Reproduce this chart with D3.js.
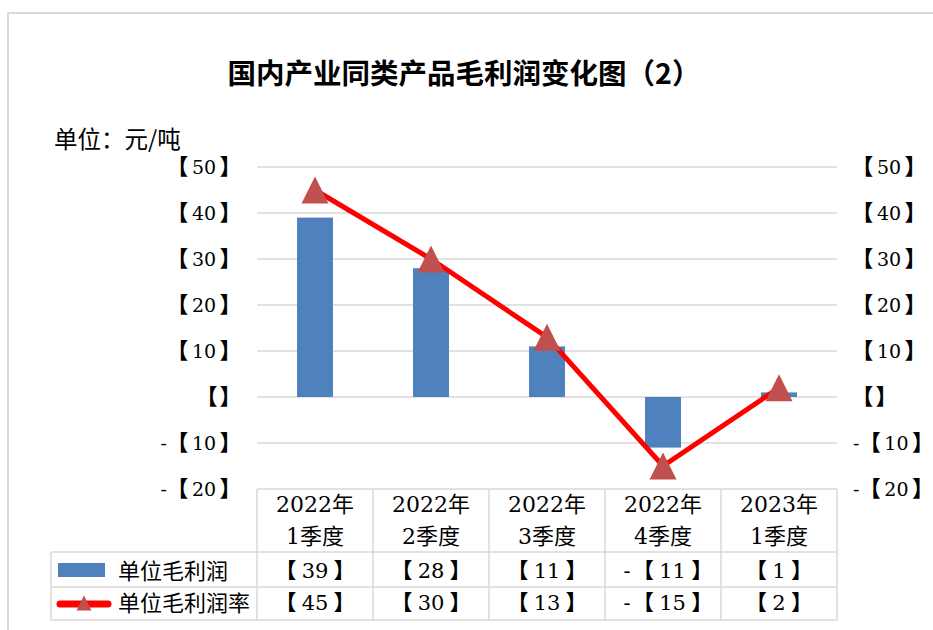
<!DOCTYPE html>
<html>
<head>
<meta charset="utf-8">
<script src="https://cdn.jsdelivr.net/npm/d3@7/dist/d3.min.js"></script>
<style>
  body { margin: 0; background: #fff; }
  svg text { fill: #000; }
  .bk { font-family: 'Noto Sans CJK SC', sans-serif; font-weight: 900; font-size: 1.15em; font-feature-settings: "palt"; }
  .cell .bk { font-size: 1em; }
</style>
</head>
<body>
<div id="chart"></div>
<script>
const categories = [["2022年", "1季度"], ["2022年", "2季度"], ["2022年", "3季度"], ["2022年", "4季度"], ["2023年", "1季度"]]
const profit = [39, 28, 11, -11, 1]
const profitRate = [45, 30, 13, -15, 2]
const seriesNames = ["单位毛利润", "单位毛利润率"]
const yTicks = [-20, -10, 0, 10, 20, 30, 40, 50]

const w = 933
const h = 630
const plotLeft = 257
const plotRight = 837
const plotTop = 167
const plotBottom = 489
const serif = "'DejaVu Serif', 'Noto Sans CJK SC', serif"
const cjk = "'Noto Sans CJK SC', sans-serif"

// writes "【n】", "- 【n】" or "【】" into a text element, brackets in heavy CJK
const bracketText = (text, v, gap, negGap) => {
    text.text(null)
    if (v < 0) text.append('tspan').text('-')
    text.append('tspan').attr('class', 'bk').attr('dx', v < 0 ? negGap : 0).text('【')
    if (v !== 0) text.append('tspan').attr('dx', gap).text(Math.abs(v))
    text.append('tspan').attr('class', 'bk').attr('dx', v !== 0 ? gap : 3).text('】')
}

const svg = d3.select('#chart')
    .append('svg')
    .attr('width', w)
    .attr('height', h)

// outer frame (runs off the right / bottom of the picture)
svg.append('rect')
    .attr('x', 8)
    .attr('y', 13)
    .attr('width', 1000)
    .attr('height', 700)
    .attr('fill', 'none')
    .attr('stroke', '#d9d9d9')
    .attr('stroke-width', 2)

svg.append('text')
    .attr('x', 464)
    .attr('y', 84)
    .attr('text-anchor', 'middle')
    .style('font-family', cjk)
    .style('font-weight', 'bold')
    .style('font-size', '28.5px')
    .text('国内产业同类产品毛利润变化图（2）')

svg.append('text')
    .attr('x', 54)
    .attr('y', 148)
    .style('font-family', cjk)
    .style('font-size', '23.5px')
    .text('单位：元/吨')

const xScale = d3.scaleBand()
    .domain(d3.range(categories.length))
    .range([plotLeft, plotRight])

const yScale = d3.scaleLinear()
    .domain([-20, 50])
    .range([plotBottom, plotTop])

// grid
svg.append('g')
    .selectAll('line')
    .data(yTicks.filter(d => d > -20))
    .enter()
    .append('line')
    .attr('x1', plotLeft)
    .attr('x2', plotRight)
    .attr('y1', d => yScale(d))
    .attr('y2', d => yScale(d))
    .attr('stroke', '#d9d9d9')
    .attr('stroke-width', 1.5)

const yAxisL = d3.axisLeft(yScale)
    .tickValues(yTicks)
    .tickSize(0)
    .tickPadding(26)
const yAxisR = d3.axisRight(yScale)
    .tickValues(yTicks)
    .tickSize(0)
    .tickPadding(25)

const gl = svg.append('g')
    .attr('transform', 'translate(' + plotLeft + ',0)')
    .call(yAxisL)
const gr = svg.append('g')
    .attr('transform', 'translate(' + plotRight + ',0)')
    .call(yAxisR)
;[gl, gr].forEach(g => {
    g.select('.domain').remove()
    g.selectAll('text')
        .style('font-family', serif)
        .style('font-size', '19px')
        .style('fill', '#000')
        .each(function (d) { bracketText(d3.select(this), d, 4, 10) })
})
gr.selectAll('text')
    .filter(d => d < 0)
    .attr('x', 16)

// bars
const barW = xScale.bandwidth() * 0.31
svg.append('g')
    .selectAll('rect')
    .data(profit)
    .enter()
    .append('rect')
    .attr('x', (d, i) => xScale(i) + xScale.bandwidth() / 2 - barW / 2)
    .attr('y', d => yScale(Math.max(0, d)))
    .attr('width', barW)
    .attr('height', d => Math.abs(yScale(d) - yScale(0)))
    .attr('fill', '#4f81bd')

// line
const line = d3.line()
    .x((d, i) => xScale(i) + xScale.bandwidth() / 2)
    .y(d => yScale(d))
svg.append('path')
    .datum(profitRate)
    .attr('d', line)
    .attr('fill', 'none')
    .attr('stroke', '#ff0000')
    .attr('stroke-width', 5)

// isosceles triangle marker, as wide as it is tall, centred on its box
const triangle = {
    draw(ctx, size) {
        const s = Math.sqrt(size) / 2
        ctx.moveTo(0, -s)
        ctx.lineTo(s, s)
        ctx.lineTo(-s, s)
        ctx.closePath()
    }
}
svg.append('g')
    .selectAll('path')
    .data(profitRate)
    .enter()
    .append('path')
    .attr('d', d3.symbol().type(triangle).size(27 * 27))
    .attr('transform', (d, i) => 'translate(' + (xScale(i) + xScale.bandwidth() / 2) + ',' + yScale(d) + ')')
    .attr('fill', '#c0504d')

// data table
const tableLeft = 51
const rowY = [489, 552, 587, 620]
const tbl = svg.append('g')
    .attr('stroke', '#d9d9d9')
    .attr('stroke-width', 1.5)
tbl.append('line').attr('x1', plotLeft).attr('x2', plotRight).attr('y1', rowY[0]).attr('y2', rowY[0])
rowY.slice(1).forEach(y => {
    tbl.append('line').attr('x1', tableLeft).attr('x2', plotRight).attr('y1', y).attr('y2', y)
})
d3.range(categories.length + 1).forEach(i => {
    const x = i < categories.length ? xScale(i) : plotRight
    tbl.append('line').attr('x1', x).attr('x2', x).attr('y1', rowY[0]).attr('y2', rowY[3])
})
tbl.append('line').attr('x1', tableLeft).attr('x2', tableLeft).attr('y1', rowY[1]).attr('y2', rowY[3])

categories.forEach((c, i) => {
    const cx = xScale(i) + xScale.bandwidth() / 2
    const t = svg.append('text')
        .attr('text-anchor', 'middle')
        .style('font-family', serif)
        .style('font-size', '22px')
    t.append('tspan').attr('x', cx).attr('y', 512).text(c[0])
    t.append('tspan').attr('x', cx).attr('y', 544).text(c[1])
})

const valueBase = [578, 610]
;[profit, profitRate].forEach((vals, r) => {
    svg.append('g')
        .attr('class', 'cell')
        .selectAll('text')
        .data(vals)
        .enter()
        .append('text')
        .attr('x', (d, i) => xScale(i) + xScale.bandwidth() / 2)
        .attr('y', valueBase[r])
        .attr('text-anchor', 'middle')
        .style('font-family', serif)
        .style('font-size', '21px')
        .each(function (d) { bracketText(d3.select(this), d, 6, 12) })
})

// legend keys inside the table
svg.append('rect')
    .attr('x', 58)
    .attr('y', 563)
    .attr('width', 47)
    .attr('height', 14)
    .attr('fill', '#4f81bd')
svg.append('line')
    .attr('x1', 60)
    .attr('x2', 108)
    .attr('y1', 604)
    .attr('y2', 604)
    .attr('stroke', '#ff0000')
    .attr('stroke-width', 7)
    .attr('stroke-linecap', 'round')
svg.append('path')
    .attr('d', d3.symbol().type(triangle).size(15 * 15))
    .attr('transform', 'translate(84,603)')
    .attr('fill', '#c0504d')

const nameBase = [579, 611]
seriesNames.forEach((s, r) => {
    svg.append('text')
        .attr('x', 118)
        .attr('y', nameBase[r])
        .style('font-family', cjk)
        .style('font-size', '22px')
        .text(s)
})
</script>
</body>
</html>
